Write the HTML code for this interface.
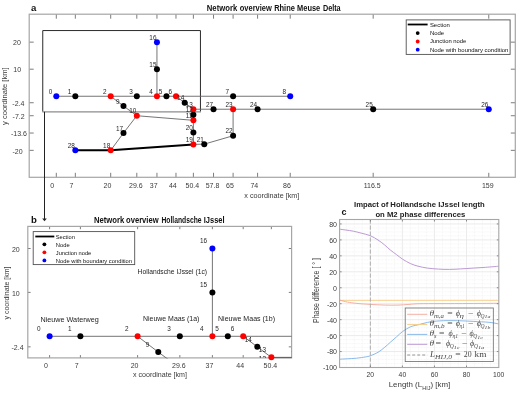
<!DOCTYPE html><html><head><meta charset="utf-8"><style>html,body{margin:0;padding:0;background:#fff;}svg{display:block;will-change:transform;}</style></head><body>
<svg width="520" height="400" viewBox="0 0 520 400">
<rect width="520" height="400" fill="#fff"/>
<defs>
<clipPath id="clipA"><rect x="29.2" y="14.2" width="486.1" height="163.1"/></clipPath>
<clipPath id="clipB"><rect x="27.8" y="226.4" width="263.8" height="131.5"/></clipPath>
<clipPath id="clipB2"><rect x="27.8" y="226.4" width="263.8" height="132.2"/></clipPath>
<clipPath id="clipC"><rect x="339.6" y="219.5" width="159.2" height="148"/></clipPath>
</defs>
<line x1="56.30" y1="177.30" x2="56.30" y2="172.80" stroke="#6e6e6e" stroke-width="0.9"/>
<line x1="56.30" y1="14.20" x2="56.30" y2="18.70" stroke="#6e6e6e" stroke-width="0.9"/>
<line x1="75.34" y1="177.30" x2="75.34" y2="172.80" stroke="#6e6e6e" stroke-width="0.9"/>
<line x1="75.34" y1="14.20" x2="75.34" y2="18.70" stroke="#6e6e6e" stroke-width="0.9"/>
<line x1="110.70" y1="177.30" x2="110.70" y2="172.80" stroke="#6e6e6e" stroke-width="0.9"/>
<line x1="110.70" y1="14.20" x2="110.70" y2="18.70" stroke="#6e6e6e" stroke-width="0.9"/>
<line x1="136.81" y1="177.30" x2="136.81" y2="172.80" stroke="#6e6e6e" stroke-width="0.9"/>
<line x1="136.81" y1="14.20" x2="136.81" y2="18.70" stroke="#6e6e6e" stroke-width="0.9"/>
<line x1="156.94" y1="177.30" x2="156.94" y2="172.80" stroke="#6e6e6e" stroke-width="0.9"/>
<line x1="156.94" y1="14.20" x2="156.94" y2="18.70" stroke="#6e6e6e" stroke-width="0.9"/>
<line x1="175.98" y1="177.30" x2="175.98" y2="172.80" stroke="#6e6e6e" stroke-width="0.9"/>
<line x1="175.98" y1="14.20" x2="175.98" y2="18.70" stroke="#6e6e6e" stroke-width="0.9"/>
<line x1="193.39" y1="177.30" x2="193.39" y2="172.80" stroke="#6e6e6e" stroke-width="0.9"/>
<line x1="193.39" y1="14.20" x2="193.39" y2="18.70" stroke="#6e6e6e" stroke-width="0.9"/>
<line x1="213.52" y1="177.30" x2="213.52" y2="172.80" stroke="#6e6e6e" stroke-width="0.9"/>
<line x1="213.52" y1="14.20" x2="213.52" y2="18.70" stroke="#6e6e6e" stroke-width="0.9"/>
<line x1="233.10" y1="177.30" x2="233.10" y2="172.80" stroke="#6e6e6e" stroke-width="0.9"/>
<line x1="233.10" y1="14.20" x2="233.10" y2="18.70" stroke="#6e6e6e" stroke-width="0.9"/>
<line x1="257.58" y1="177.30" x2="257.58" y2="172.80" stroke="#6e6e6e" stroke-width="0.9"/>
<line x1="257.58" y1="14.20" x2="257.58" y2="18.70" stroke="#6e6e6e" stroke-width="0.9"/>
<line x1="290.22" y1="177.30" x2="290.22" y2="172.80" stroke="#6e6e6e" stroke-width="0.9"/>
<line x1="290.22" y1="14.20" x2="290.22" y2="18.70" stroke="#6e6e6e" stroke-width="0.9"/>
<line x1="373.18" y1="177.30" x2="373.18" y2="172.80" stroke="#6e6e6e" stroke-width="0.9"/>
<line x1="373.18" y1="14.20" x2="373.18" y2="18.70" stroke="#6e6e6e" stroke-width="0.9"/>
<line x1="488.78" y1="177.30" x2="488.78" y2="172.80" stroke="#6e6e6e" stroke-width="0.9"/>
<line x1="488.78" y1="14.20" x2="488.78" y2="18.70" stroke="#6e6e6e" stroke-width="0.9"/>
<line x1="29.20" y1="42.15" x2="33.70" y2="42.15" stroke="#6e6e6e" stroke-width="0.9"/>
<line x1="515.30" y1="42.15" x2="510.80" y2="42.15" stroke="#6e6e6e" stroke-width="0.9"/>
<line x1="29.20" y1="69.20" x2="33.70" y2="69.20" stroke="#6e6e6e" stroke-width="0.9"/>
<line x1="515.30" y1="69.20" x2="510.80" y2="69.20" stroke="#6e6e6e" stroke-width="0.9"/>
<line x1="29.20" y1="102.74" x2="33.70" y2="102.74" stroke="#6e6e6e" stroke-width="0.9"/>
<line x1="515.30" y1="102.74" x2="510.80" y2="102.74" stroke="#6e6e6e" stroke-width="0.9"/>
<line x1="29.20" y1="115.73" x2="33.70" y2="115.73" stroke="#6e6e6e" stroke-width="0.9"/>
<line x1="515.30" y1="115.73" x2="510.80" y2="115.73" stroke="#6e6e6e" stroke-width="0.9"/>
<line x1="29.20" y1="133.04" x2="33.70" y2="133.04" stroke="#6e6e6e" stroke-width="0.9"/>
<line x1="515.30" y1="133.04" x2="510.80" y2="133.04" stroke="#6e6e6e" stroke-width="0.9"/>
<line x1="29.20" y1="150.35" x2="33.70" y2="150.35" stroke="#6e6e6e" stroke-width="0.9"/>
<line x1="515.30" y1="150.35" x2="510.80" y2="150.35" stroke="#6e6e6e" stroke-width="0.9"/>
<rect x="29.2" y="14.2" width="486.09999999999997" height="163.10000000000002" fill="none" stroke="#a6a6a6" stroke-width="1.2"/>
<text x="52.30" y="188.20" font-size="7.0" fill="#3a3a3a" text-anchor="middle" font-weight="normal" font-family='"Liberation Sans", sans-serif'>0</text>
<text x="71.34" y="188.20" font-size="7.0" fill="#3a3a3a" text-anchor="middle" font-weight="normal" font-family='"Liberation Sans", sans-serif'>7</text>
<text x="107.50" y="188.20" font-size="7.0" fill="#3a3a3a" text-anchor="middle" font-weight="normal" font-family='"Liberation Sans", sans-serif'>20</text>
<text x="135.81" y="188.20" font-size="7.0" fill="#3a3a3a" text-anchor="middle" font-weight="normal" font-family='"Liberation Sans", sans-serif'>29.6</text>
<text x="153.74" y="188.20" font-size="7.0" fill="#3a3a3a" text-anchor="middle" font-weight="normal" font-family='"Liberation Sans", sans-serif'>37</text>
<text x="172.78" y="188.20" font-size="7.0" fill="#3a3a3a" text-anchor="middle" font-weight="normal" font-family='"Liberation Sans", sans-serif'>44</text>
<text x="192.39" y="188.20" font-size="7.0" fill="#3a3a3a" text-anchor="middle" font-weight="normal" font-family='"Liberation Sans", sans-serif'>50.4</text>
<text x="212.52" y="188.20" font-size="7.0" fill="#3a3a3a" text-anchor="middle" font-weight="normal" font-family='"Liberation Sans", sans-serif'>57.8</text>
<text x="229.90" y="188.20" font-size="7.0" fill="#3a3a3a" text-anchor="middle" font-weight="normal" font-family='"Liberation Sans", sans-serif'>65</text>
<text x="254.38" y="188.20" font-size="7.0" fill="#3a3a3a" text-anchor="middle" font-weight="normal" font-family='"Liberation Sans", sans-serif'>74</text>
<text x="287.02" y="188.20" font-size="7.0" fill="#3a3a3a" text-anchor="middle" font-weight="normal" font-family='"Liberation Sans", sans-serif'>86</text>
<text x="372.18" y="188.20" font-size="7.0" fill="#3a3a3a" text-anchor="middle" font-weight="normal" font-family='"Liberation Sans", sans-serif'>116.5</text>
<text x="487.78" y="188.20" font-size="7.0" fill="#3a3a3a" text-anchor="middle" font-weight="normal" font-family='"Liberation Sans", sans-serif'>159</text>
<text x="16.90" y="45.10" font-size="7.0" fill="#3a3a3a" text-anchor="middle" font-weight="normal" font-family='"Liberation Sans", sans-serif'>20</text>
<text x="17.20" y="71.80" font-size="7.0" fill="#3a3a3a" text-anchor="middle" font-weight="normal" font-family='"Liberation Sans", sans-serif'>10</text>
<text x="18.40" y="105.90" font-size="7.0" fill="#3a3a3a" text-anchor="middle" font-weight="normal" font-family='"Liberation Sans", sans-serif'>-2.4</text>
<text x="18.60" y="119.10" font-size="7.0" fill="#3a3a3a" text-anchor="middle" font-weight="normal" font-family='"Liberation Sans", sans-serif'>-7.2</text>
<text x="18.90" y="136.30" font-size="7.0" fill="#3a3a3a" text-anchor="middle" font-weight="normal" font-family='"Liberation Sans", sans-serif'>-13.6</text>
<text x="17.60" y="153.60" font-size="7.0" fill="#3a3a3a" text-anchor="middle" font-weight="normal" font-family='"Liberation Sans", sans-serif'>-20</text>
<text x="271.80" y="197.60" font-size="7.3" fill="#3a3a3a" text-anchor="middle" font-weight="normal" font-family='"Liberation Sans", sans-serif' textLength="55" lengthAdjust="spacingAndGlyphs">x coordinate [km]</text>
<text transform="translate(7.2,96.2) rotate(-90)" x="0" y="0" font-size="8.0" fill="#3a3a3a" text-anchor="middle" font-family='"Liberation Sans", sans-serif' textLength="57.5" lengthAdjust="spacingAndGlyphs">y coordinate [km]</text>
<text x="206.80" y="11.00" font-size="8.6" fill="#111" text-anchor="start" font-weight="bold" font-family='"Liberation Sans", sans-serif' textLength="30.39" lengthAdjust="spacingAndGlyphs">Network</text>
<text x="239.80" y="11.00" font-size="8.6" fill="#111" text-anchor="start" font-weight="bold" font-family='"Liberation Sans", sans-serif' textLength="31.99" lengthAdjust="spacingAndGlyphs">overview</text>
<text x="274.20" y="11.00" font-size="8.6" fill="#111" text-anchor="start" font-weight="bold" font-family='"Liberation Sans", sans-serif' textLength="20.70" lengthAdjust="spacingAndGlyphs">Rhine</text>
<text x="297.10" y="11.00" font-size="8.6" fill="#111" text-anchor="start" font-weight="bold" font-family='"Liberation Sans", sans-serif' textLength="23.10" lengthAdjust="spacingAndGlyphs">Meuse</text>
<text x="322.90" y="11.00" font-size="8.6" fill="#111" text-anchor="start" font-weight="bold" font-family='"Liberation Sans", sans-serif' textLength="17.75" lengthAdjust="spacingAndGlyphs">Delta</text>
<text x="31.00" y="10.80" font-size="9.6" fill="#111" text-anchor="start" font-weight="bold" font-family='"Liberation Sans", sans-serif'>a</text>
<path d="M42.75,111.6 L42.75,30.55 L200.45,30.55 L200.45,111.6" fill="none" stroke="#2a2a2a" stroke-width="1"/>
<line x1="42.30" y1="111.85" x2="200.90" y2="111.85" stroke="#8c8c8c" stroke-width="1.4"/>
<g clip-path="url(#clipA)">
<polyline points="56.30,96.25 75.34,96.25 110.70,96.25 136.81,96.25 156.94,96.25 166.46,96.25 175.98,96.25 233.10,96.25 290.22,96.25" fill="none" stroke="#656565" stroke-width="0.9" stroke-linejoin="round"/>
<polyline points="175.98,96.25 184.68,102.74 193.39,109.23" fill="none" stroke="#656565" stroke-width="0.9" stroke-linejoin="round"/>
<polyline points="193.39,109.23 213.52,109.23 233.10,109.23 257.58,109.23 373.18,109.23 488.78,109.23" fill="none" stroke="#656565" stroke-width="0.9" stroke-linejoin="round"/>
<polyline points="193.39,109.23 193.39,114.64 193.39,120.32 193.39,132.50 193.39,144.40" fill="none" stroke="#656565" stroke-width="0.9" stroke-linejoin="round"/>
<polyline points="156.94,96.25 156.94,69.20 156.94,42.15" fill="none" stroke="#656565" stroke-width="0.9" stroke-linejoin="round"/>
<polyline points="110.70,96.25 123.48,105.99 136.81,115.73" fill="none" stroke="#656565" stroke-width="0.9" stroke-linejoin="round"/>
<polyline points="136.81,115.73 193.39,120.32" fill="none" stroke="#656565" stroke-width="0.9" stroke-linejoin="round"/>
<polyline points="136.81,115.73 123.48,133.04 110.70,150.35" fill="none" stroke="#656565" stroke-width="0.9" stroke-linejoin="round"/>
<polyline points="193.39,144.40 204.27,144.13 233.10,135.74 233.10,109.23" fill="none" stroke="#656565" stroke-width="0.9" stroke-linejoin="round"/>
<polyline points="75.34,150.35 110.70,150.35 193.39,144.40" fill="none" stroke="#000" stroke-width="2.0" stroke-linejoin="round"/>
</g>
<circle cx="56.30" cy="96.25" r="3.0" fill="#0000ff"/>
<circle cx="75.34" cy="96.25" r="3.0" fill="#000000"/>
<circle cx="110.70" cy="96.25" r="3.0" fill="#ff0000"/>
<circle cx="136.81" cy="96.25" r="3.0" fill="#000000"/>
<circle cx="156.94" cy="96.25" r="3.0" fill="#ff0000"/>
<circle cx="166.46" cy="96.25" r="3.0" fill="#000000"/>
<circle cx="175.98" cy="96.25" r="3.0" fill="#ff0000"/>
<circle cx="233.10" cy="96.25" r="3.0" fill="#000000"/>
<circle cx="290.22" cy="96.25" r="3.0" fill="#0000ff"/>
<circle cx="123.48" cy="105.99" r="3.0" fill="#000000"/>
<circle cx="136.81" cy="115.73" r="3.0" fill="#ff0000"/>
<circle cx="193.39" cy="120.32" r="3.0" fill="#ff0000"/>
<circle cx="193.39" cy="114.64" r="3.0" fill="#000000"/>
<circle cx="193.39" cy="109.23" r="3.0" fill="#ff0000"/>
<circle cx="184.68" cy="102.74" r="3.0" fill="#000000"/>
<circle cx="156.94" cy="69.20" r="3.0" fill="#000000"/>
<circle cx="156.94" cy="42.15" r="3.0" fill="#0000ff"/>
<circle cx="123.48" cy="133.04" r="3.0" fill="#000000"/>
<circle cx="110.70" cy="150.35" r="3.0" fill="#ff0000"/>
<circle cx="193.39" cy="144.40" r="3.0" fill="#ff0000"/>
<circle cx="193.39" cy="132.50" r="3.0" fill="#000000"/>
<circle cx="204.27" cy="144.13" r="3.0" fill="#000000"/>
<circle cx="233.10" cy="135.74" r="3.0" fill="#000000"/>
<circle cx="233.10" cy="109.23" r="3.0" fill="#ff0000"/>
<circle cx="257.58" cy="109.23" r="3.0" fill="#000000"/>
<circle cx="373.18" cy="109.23" r="3.0" fill="#000000"/>
<circle cx="488.78" cy="109.23" r="3.0" fill="#0000ff"/>
<circle cx="213.52" cy="109.23" r="3.0" fill="#000000"/>
<circle cx="75.34" cy="150.35" r="3.0" fill="#0000ff"/>
<g clip-path="url(#clipA)">
<text x="48.70" y="93.95" font-size="6.4" fill="#262626" text-anchor="start" font-weight="normal" font-family='"Liberation Sans", sans-serif'>0</text>
<text x="67.74" y="93.95" font-size="6.4" fill="#262626" text-anchor="start" font-weight="normal" font-family='"Liberation Sans", sans-serif'>1</text>
<text x="103.10" y="93.95" font-size="6.4" fill="#262626" text-anchor="start" font-weight="normal" font-family='"Liberation Sans", sans-serif'>2</text>
<text x="129.21" y="93.95" font-size="6.4" fill="#262626" text-anchor="start" font-weight="normal" font-family='"Liberation Sans", sans-serif'>3</text>
<text x="149.34" y="93.95" font-size="6.4" fill="#262626" text-anchor="start" font-weight="normal" font-family='"Liberation Sans", sans-serif'>4</text>
<text x="158.86" y="93.95" font-size="6.4" fill="#262626" text-anchor="start" font-weight="normal" font-family='"Liberation Sans", sans-serif'>5</text>
<text x="168.38" y="93.95" font-size="6.4" fill="#262626" text-anchor="start" font-weight="normal" font-family='"Liberation Sans", sans-serif'>6</text>
<text x="225.50" y="93.95" font-size="6.4" fill="#262626" text-anchor="start" font-weight="normal" font-family='"Liberation Sans", sans-serif'>7</text>
<text x="282.62" y="93.95" font-size="6.4" fill="#262626" text-anchor="start" font-weight="normal" font-family='"Liberation Sans", sans-serif'>8</text>
<text x="115.88" y="103.69" font-size="6.4" fill="#262626" text-anchor="start" font-weight="normal" font-family='"Liberation Sans", sans-serif'>9</text>
<text x="129.21" y="113.43" font-size="6.4" fill="#262626" text-anchor="start" font-weight="normal" font-family='"Liberation Sans", sans-serif'>10</text>
<text x="185.79" y="118.02" font-size="6.4" fill="#262626" text-anchor="start" font-weight="normal" font-family='"Liberation Sans", sans-serif'>11</text>
<text x="185.79" y="112.34" font-size="6.4" fill="#262626" text-anchor="start" font-weight="normal" font-family='"Liberation Sans", sans-serif'>12</text>
<text x="185.79" y="106.93" font-size="6.4" fill="#262626" text-anchor="start" font-weight="normal" font-family='"Liberation Sans", sans-serif'>13</text>
<text x="177.08" y="100.44" font-size="6.4" fill="#262626" text-anchor="start" font-weight="normal" font-family='"Liberation Sans", sans-serif'>14</text>
<text x="149.34" y="66.90" font-size="6.4" fill="#262626" text-anchor="start" font-weight="normal" font-family='"Liberation Sans", sans-serif'>15</text>
<text x="149.34" y="39.85" font-size="6.4" fill="#262626" text-anchor="start" font-weight="normal" font-family='"Liberation Sans", sans-serif'>16</text>
<text x="115.88" y="130.74" font-size="6.4" fill="#262626" text-anchor="start" font-weight="normal" font-family='"Liberation Sans", sans-serif'>17</text>
<text x="103.10" y="148.05" font-size="6.4" fill="#262626" text-anchor="start" font-weight="normal" font-family='"Liberation Sans", sans-serif'>18</text>
<text x="185.79" y="142.10" font-size="6.4" fill="#262626" text-anchor="start" font-weight="normal" font-family='"Liberation Sans", sans-serif'>19</text>
<text x="185.79" y="130.20" font-size="6.4" fill="#262626" text-anchor="start" font-weight="normal" font-family='"Liberation Sans", sans-serif'>20</text>
<text x="196.67" y="141.83" font-size="6.4" fill="#262626" text-anchor="start" font-weight="normal" font-family='"Liberation Sans", sans-serif'>21</text>
<text x="225.50" y="133.44" font-size="6.4" fill="#262626" text-anchor="start" font-weight="normal" font-family='"Liberation Sans", sans-serif'>22</text>
<text x="225.50" y="106.93" font-size="6.4" fill="#262626" text-anchor="start" font-weight="normal" font-family='"Liberation Sans", sans-serif'>23</text>
<text x="249.98" y="106.93" font-size="6.4" fill="#262626" text-anchor="start" font-weight="normal" font-family='"Liberation Sans", sans-serif'>24</text>
<text x="365.58" y="106.93" font-size="6.4" fill="#262626" text-anchor="start" font-weight="normal" font-family='"Liberation Sans", sans-serif'>25</text>
<text x="481.18" y="106.93" font-size="6.4" fill="#262626" text-anchor="start" font-weight="normal" font-family='"Liberation Sans", sans-serif'>26</text>
<text x="205.92" y="106.93" font-size="6.4" fill="#262626" text-anchor="start" font-weight="normal" font-family='"Liberation Sans", sans-serif'>27</text>
<text x="67.74" y="148.05" font-size="6.4" fill="#262626" text-anchor="start" font-weight="normal" font-family='"Liberation Sans", sans-serif'>28</text>
</g>
<line x1="44.50" y1="111.80" x2="44.50" y2="219.50" stroke="#222" stroke-width="1"/>
<path d="M42.2,218.4 L44.5,221.2 L46.8,218.4 Z" fill="#222"/>
<rect x="406.2" y="19.9" width="103.9" height="34.5" fill="#fff" stroke="#505050" stroke-width="0.9"/>
<line x1="407.70" y1="24.50" x2="427.60" y2="24.50" stroke="#000" stroke-width="1.8"/>
<circle cx="417.70" cy="33.10" r="1.9" fill="#000000"/>
<circle cx="417.70" cy="41.50" r="1.9" fill="#ff0000"/>
<circle cx="417.70" cy="49.70" r="1.9" fill="#0000ff"/>
<text x="429.90" y="27.00" font-size="6.1" fill="#111" text-anchor="start" font-weight="normal" font-family='"Liberation Sans", sans-serif' textLength="19.9" lengthAdjust="spacingAndGlyphs">Section</text>
<text x="429.90" y="35.00" font-size="6.1" fill="#111" text-anchor="start" font-weight="normal" font-family='"Liberation Sans", sans-serif' textLength="14.3" lengthAdjust="spacingAndGlyphs">Node</text>
<text x="429.90" y="43.40" font-size="6.1" fill="#111" text-anchor="start" font-weight="normal" font-family='"Liberation Sans", sans-serif' textLength="36.5" lengthAdjust="spacingAndGlyphs">Junction node</text>
<text x="429.90" y="51.60" font-size="6.1" fill="#111" text-anchor="start" font-weight="normal" font-family='"Liberation Sans", sans-serif' textLength="78.5" lengthAdjust="spacingAndGlyphs">Node with boundary condition</text>
<line x1="49.60" y1="357.90" x2="49.60" y2="355.10" stroke="#6e6e6e" stroke-width="0.9"/>
<line x1="49.60" y1="226.40" x2="49.60" y2="229.20" stroke="#6e6e6e" stroke-width="0.9"/>
<line x1="80.40" y1="357.90" x2="80.40" y2="355.10" stroke="#6e6e6e" stroke-width="0.9"/>
<line x1="80.40" y1="226.40" x2="80.40" y2="229.20" stroke="#6e6e6e" stroke-width="0.9"/>
<line x1="137.60" y1="357.90" x2="137.60" y2="355.10" stroke="#6e6e6e" stroke-width="0.9"/>
<line x1="137.60" y1="226.40" x2="137.60" y2="229.20" stroke="#6e6e6e" stroke-width="0.9"/>
<line x1="179.84" y1="357.90" x2="179.84" y2="355.10" stroke="#6e6e6e" stroke-width="0.9"/>
<line x1="179.84" y1="226.40" x2="179.84" y2="229.20" stroke="#6e6e6e" stroke-width="0.9"/>
<line x1="212.40" y1="357.90" x2="212.40" y2="355.10" stroke="#6e6e6e" stroke-width="0.9"/>
<line x1="212.40" y1="226.40" x2="212.40" y2="229.20" stroke="#6e6e6e" stroke-width="0.9"/>
<line x1="243.20" y1="357.90" x2="243.20" y2="355.10" stroke="#6e6e6e" stroke-width="0.9"/>
<line x1="243.20" y1="226.40" x2="243.20" y2="229.20" stroke="#6e6e6e" stroke-width="0.9"/>
<line x1="271.36" y1="357.90" x2="271.36" y2="355.10" stroke="#6e6e6e" stroke-width="0.9"/>
<line x1="271.36" y1="226.40" x2="271.36" y2="229.20" stroke="#6e6e6e" stroke-width="0.9"/>
<line x1="27.80" y1="248.50" x2="30.60" y2="248.50" stroke="#6e6e6e" stroke-width="0.9"/>
<line x1="291.60" y1="248.50" x2="288.80" y2="248.50" stroke="#6e6e6e" stroke-width="0.9"/>
<line x1="27.80" y1="292.40" x2="30.60" y2="292.40" stroke="#6e6e6e" stroke-width="0.9"/>
<line x1="291.60" y1="292.40" x2="288.80" y2="292.40" stroke="#6e6e6e" stroke-width="0.9"/>
<line x1="27.80" y1="346.84" x2="30.60" y2="346.84" stroke="#6e6e6e" stroke-width="0.9"/>
<line x1="291.60" y1="346.84" x2="288.80" y2="346.84" stroke="#6e6e6e" stroke-width="0.9"/>
<rect x="27.8" y="226.4" width="263.8" height="131.49999999999997" fill="none" stroke="#a6a6a6" stroke-width="1.2"/>
<text x="45.90" y="367.50" font-size="7.0" fill="#3a3a3a" text-anchor="middle" font-weight="normal" font-family='"Liberation Sans", sans-serif'>0</text>
<text x="76.70" y="367.50" font-size="7.0" fill="#3a3a3a" text-anchor="middle" font-weight="normal" font-family='"Liberation Sans", sans-serif'>7</text>
<text x="134.60" y="367.50" font-size="7.0" fill="#3a3a3a" text-anchor="middle" font-weight="normal" font-family='"Liberation Sans", sans-serif'>20</text>
<text x="178.84" y="367.50" font-size="7.0" fill="#3a3a3a" text-anchor="middle" font-weight="normal" font-family='"Liberation Sans", sans-serif'>29.6</text>
<text x="209.40" y="367.50" font-size="7.0" fill="#3a3a3a" text-anchor="middle" font-weight="normal" font-family='"Liberation Sans", sans-serif'>37</text>
<text x="240.20" y="367.50" font-size="7.0" fill="#3a3a3a" text-anchor="middle" font-weight="normal" font-family='"Liberation Sans", sans-serif'>44</text>
<text x="270.36" y="367.50" font-size="7.0" fill="#3a3a3a" text-anchor="middle" font-weight="normal" font-family='"Liberation Sans", sans-serif'>50.4</text>
<text x="15.80" y="252.00" font-size="7.0" fill="#3a3a3a" text-anchor="middle" font-weight="normal" font-family='"Liberation Sans", sans-serif'>20</text>
<text x="15.80" y="295.80" font-size="7.0" fill="#3a3a3a" text-anchor="middle" font-weight="normal" font-family='"Liberation Sans", sans-serif'>10</text>
<text x="17.50" y="350.00" font-size="7.0" fill="#3a3a3a" text-anchor="middle" font-weight="normal" font-family='"Liberation Sans", sans-serif'>-2.4</text>
<text x="160.00" y="377.00" font-size="7.3" fill="#3a3a3a" text-anchor="middle" font-weight="normal" font-family='"Liberation Sans", sans-serif' textLength="54" lengthAdjust="spacingAndGlyphs">x coordinate [km]</text>
<text transform="translate(9.0,293) rotate(-90)" x="0" y="0" font-size="7.8" fill="#3a3a3a" text-anchor="middle" font-family='"Liberation Sans", sans-serif' textLength="53" lengthAdjust="spacingAndGlyphs">y coordinate [km]</text>
<text x="94.00" y="223.30" font-size="8.4" fill="#111" text-anchor="start" font-weight="bold" font-family='"Liberation Sans", sans-serif' textLength="30.29" lengthAdjust="spacingAndGlyphs">Network</text>
<text x="126.10" y="223.30" font-size="8.4" fill="#111" text-anchor="start" font-weight="bold" font-family='"Liberation Sans", sans-serif' textLength="32.49" lengthAdjust="spacingAndGlyphs">overview</text>
<text x="161.50" y="223.30" font-size="8.4" fill="#111" text-anchor="start" font-weight="bold" font-family='"Liberation Sans", sans-serif' textLength="40.00" lengthAdjust="spacingAndGlyphs">Hollandsche</text>
<text x="203.80" y="223.30" font-size="8.4" fill="#111" text-anchor="start" font-weight="bold" font-family='"Liberation Sans", sans-serif' textLength="20.80" lengthAdjust="spacingAndGlyphs">IJssel</text>
<text x="30.90" y="222.50" font-size="9.6" fill="#111" text-anchor="start" font-weight="bold" font-family='"Liberation Sans", sans-serif'>b</text>
<line x1="271.36" y1="357.60" x2="291.60" y2="357.60" stroke="#5a5a5a" stroke-width="1.0"/>
<g clip-path="url(#clipB2)">
<polyline points="49.60,336.30 80.40,336.30 137.60,336.30 179.84,336.30 212.40,336.30 227.80,336.30 243.20,336.30 335.60,336.30 428.00,336.30" fill="none" stroke="#656565" stroke-width="0.9" stroke-linejoin="round"/>
<polyline points="243.20,336.30 257.28,346.84 271.36,357.37" fill="none" stroke="#656565" stroke-width="0.9" stroke-linejoin="round"/>
<polyline points="271.36,357.37 303.92,357.37 335.60,357.37 375.20,357.37 562.20,357.37 749.20,357.37" fill="none" stroke="#656565" stroke-width="0.9" stroke-linejoin="round"/>
<polyline points="271.36,357.37 271.36,366.15 271.36,375.37 271.36,395.13 271.36,414.44" fill="none" stroke="#656565" stroke-width="0.9" stroke-linejoin="round"/>
<polyline points="212.40,336.30 212.40,292.40 212.40,248.50" fill="none" stroke="#656565" stroke-width="0.9" stroke-linejoin="round"/>
<polyline points="137.60,336.30 158.28,352.10 179.84,367.91" fill="none" stroke="#656565" stroke-width="0.9" stroke-linejoin="round"/>
<polyline points="179.84,367.91 271.36,375.37" fill="none" stroke="#656565" stroke-width="0.9" stroke-linejoin="round"/>
<polyline points="179.84,367.91 158.28,396.00 137.60,424.10" fill="none" stroke="#656565" stroke-width="0.9" stroke-linejoin="round"/>
<polyline points="271.36,414.44 288.96,414.00 335.60,400.39 335.60,357.37" fill="none" stroke="#656565" stroke-width="0.9" stroke-linejoin="round"/>
<polyline points="80.40,424.10 137.60,424.10 271.36,414.44" fill="none" stroke="#000" stroke-width="2.0" stroke-linejoin="round"/>
</g>
<circle cx="49.60" cy="336.30" r="3.0" fill="#0000ff"/>
<circle cx="80.40" cy="336.30" r="3.0" fill="#000000"/>
<circle cx="137.60" cy="336.30" r="3.0" fill="#ff0000"/>
<circle cx="179.84" cy="336.30" r="3.0" fill="#000000"/>
<circle cx="212.40" cy="336.30" r="3.0" fill="#ff0000"/>
<circle cx="227.80" cy="336.30" r="3.0" fill="#000000"/>
<circle cx="243.20" cy="336.30" r="3.0" fill="#ff0000"/>
<circle cx="158.28" cy="352.10" r="3.0" fill="#000000"/>
<circle cx="271.36" cy="357.37" r="3.0" fill="#ff0000"/>
<circle cx="257.28" cy="346.84" r="3.0" fill="#000000"/>
<circle cx="212.40" cy="292.40" r="3.0" fill="#000000"/>
<circle cx="212.40" cy="248.50" r="3.0" fill="#0000ff"/>
<g clip-path="url(#clipB)">
<text x="37.10" y="331.00" font-size="6.4" fill="#262626" text-anchor="start" font-weight="normal" font-family='"Liberation Sans", sans-serif'>0</text>
<text x="67.90" y="331.00" font-size="6.4" fill="#262626" text-anchor="start" font-weight="normal" font-family='"Liberation Sans", sans-serif'>1</text>
<text x="125.10" y="331.00" font-size="6.4" fill="#262626" text-anchor="start" font-weight="normal" font-family='"Liberation Sans", sans-serif'>2</text>
<text x="167.34" y="331.00" font-size="6.4" fill="#262626" text-anchor="start" font-weight="normal" font-family='"Liberation Sans", sans-serif'>3</text>
<text x="199.90" y="331.00" font-size="6.4" fill="#262626" text-anchor="start" font-weight="normal" font-family='"Liberation Sans", sans-serif'>4</text>
<text x="215.30" y="331.00" font-size="6.4" fill="#262626" text-anchor="start" font-weight="normal" font-family='"Liberation Sans", sans-serif'>5</text>
<text x="230.70" y="331.00" font-size="6.4" fill="#262626" text-anchor="start" font-weight="normal" font-family='"Liberation Sans", sans-serif'>6</text>
<text x="323.10" y="331.00" font-size="6.4" fill="#262626" text-anchor="start" font-weight="normal" font-family='"Liberation Sans", sans-serif'>7</text>
<text x="415.50" y="331.00" font-size="6.4" fill="#262626" text-anchor="start" font-weight="normal" font-family='"Liberation Sans", sans-serif'>8</text>
<text x="145.78" y="346.80" font-size="6.4" fill="#262626" text-anchor="start" font-weight="normal" font-family='"Liberation Sans", sans-serif'>9</text>
<text x="167.34" y="362.61" font-size="6.4" fill="#262626" text-anchor="start" font-weight="normal" font-family='"Liberation Sans", sans-serif'>10</text>
<text x="258.86" y="370.07" font-size="6.4" fill="#262626" text-anchor="start" font-weight="normal" font-family='"Liberation Sans", sans-serif'>11</text>
<text x="258.86" y="360.85" font-size="6.4" fill="#262626" text-anchor="start" font-weight="normal" font-family='"Liberation Sans", sans-serif'>12</text>
<text x="258.86" y="352.07" font-size="6.4" fill="#262626" text-anchor="start" font-weight="normal" font-family='"Liberation Sans", sans-serif'>13</text>
<text x="244.78" y="341.54" font-size="6.4" fill="#262626" text-anchor="start" font-weight="normal" font-family='"Liberation Sans", sans-serif'>14</text>
<text x="199.90" y="287.10" font-size="6.4" fill="#262626" text-anchor="start" font-weight="normal" font-family='"Liberation Sans", sans-serif'>15</text>
<text x="199.90" y="243.20" font-size="6.4" fill="#262626" text-anchor="start" font-weight="normal" font-family='"Liberation Sans", sans-serif'>16</text>
<text x="145.78" y="390.70" font-size="6.4" fill="#262626" text-anchor="start" font-weight="normal" font-family='"Liberation Sans", sans-serif'>17</text>
<text x="125.10" y="418.80" font-size="6.4" fill="#262626" text-anchor="start" font-weight="normal" font-family='"Liberation Sans", sans-serif'>18</text>
<text x="258.86" y="409.14" font-size="6.4" fill="#262626" text-anchor="start" font-weight="normal" font-family='"Liberation Sans", sans-serif'>19</text>
<text x="258.86" y="389.83" font-size="6.4" fill="#262626" text-anchor="start" font-weight="normal" font-family='"Liberation Sans", sans-serif'>20</text>
<text x="276.46" y="408.70" font-size="6.4" fill="#262626" text-anchor="start" font-weight="normal" font-family='"Liberation Sans", sans-serif'>21</text>
<text x="323.10" y="395.09" font-size="6.4" fill="#262626" text-anchor="start" font-weight="normal" font-family='"Liberation Sans", sans-serif'>22</text>
<text x="323.10" y="352.07" font-size="6.4" fill="#262626" text-anchor="start" font-weight="normal" font-family='"Liberation Sans", sans-serif'>23</text>
<text x="362.70" y="352.07" font-size="6.4" fill="#262626" text-anchor="start" font-weight="normal" font-family='"Liberation Sans", sans-serif'>24</text>
<text x="549.70" y="352.07" font-size="6.4" fill="#262626" text-anchor="start" font-weight="normal" font-family='"Liberation Sans", sans-serif'>25</text>
<text x="736.70" y="352.07" font-size="6.4" fill="#262626" text-anchor="start" font-weight="normal" font-family='"Liberation Sans", sans-serif'>26</text>
<text x="291.42" y="352.07" font-size="6.4" fill="#262626" text-anchor="start" font-weight="normal" font-family='"Liberation Sans", sans-serif'>27</text>
<text x="67.90" y="418.80" font-size="6.4" fill="#262626" text-anchor="start" font-weight="normal" font-family='"Liberation Sans", sans-serif'>28</text>
</g>
<text x="40.40" y="322.00" font-size="7.4" fill="#222" text-anchor="start" font-weight="normal" font-family='"Liberation Sans", sans-serif' textLength="58.5" lengthAdjust="spacingAndGlyphs">Nieuwe Waterweg</text>
<text x="143.00" y="321.40" font-size="7.4" fill="#222" text-anchor="start" font-weight="normal" font-family='"Liberation Sans", sans-serif' textLength="56.4" lengthAdjust="spacingAndGlyphs">Nieuwe Maas (1a)</text>
<text x="218.00" y="321.00" font-size="7.4" fill="#222" text-anchor="start" font-weight="normal" font-family='"Liberation Sans", sans-serif' textLength="57" lengthAdjust="spacingAndGlyphs">Nieuwe Maas (1b)</text>
<text x="137.60" y="274.00" font-size="7.4" fill="#222" text-anchor="start" font-weight="normal" font-family='"Liberation Sans", sans-serif' textLength="69.4" lengthAdjust="spacingAndGlyphs">Hollandsche IJssel (1c)</text>
<rect x="33.2" y="231.6" width="101.5" height="33" fill="#fff" stroke="#505050" stroke-width="0.9"/>
<line x1="35.30" y1="236.50" x2="54.30" y2="236.50" stroke="#000" stroke-width="1.8"/>
<circle cx="44.40" cy="244.30" r="1.9" fill="#000000"/>
<circle cx="44.40" cy="252.30" r="1.9" fill="#ff0000"/>
<circle cx="44.40" cy="260.40" r="1.9" fill="#0000ff"/>
<text x="55.80" y="238.60" font-size="6.0" fill="#111" text-anchor="start" font-weight="normal" font-family='"Liberation Sans", sans-serif' textLength="19" lengthAdjust="spacingAndGlyphs">Section</text>
<text x="55.80" y="246.60" font-size="6.0" fill="#111" text-anchor="start" font-weight="normal" font-family='"Liberation Sans", sans-serif' textLength="13.8" lengthAdjust="spacingAndGlyphs">Node</text>
<text x="55.80" y="254.80" font-size="6.0" fill="#111" text-anchor="start" font-weight="normal" font-family='"Liberation Sans", sans-serif' textLength="35.5" lengthAdjust="spacingAndGlyphs">Junction node</text>
<text x="55.80" y="262.80" font-size="6.0" fill="#111" text-anchor="start" font-weight="normal" font-family='"Liberation Sans", sans-serif' textLength="76.2" lengthAdjust="spacingAndGlyphs">Node with boundary condition</text>
<line x1="346.31" y1="219.50" x2="346.31" y2="367.50" stroke="#f1f1f1" stroke-width="0.6" stroke-dasharray="2,1"/>
<line x1="354.32" y1="219.50" x2="354.32" y2="367.50" stroke="#f1f1f1" stroke-width="0.6" stroke-dasharray="2,1"/>
<line x1="362.34" y1="219.50" x2="362.34" y2="367.50" stroke="#f1f1f1" stroke-width="0.6" stroke-dasharray="2,1"/>
<line x1="378.36" y1="219.50" x2="378.36" y2="367.50" stroke="#f1f1f1" stroke-width="0.6" stroke-dasharray="2,1"/>
<line x1="386.38" y1="219.50" x2="386.38" y2="367.50" stroke="#f1f1f1" stroke-width="0.6" stroke-dasharray="2,1"/>
<line x1="394.39" y1="219.50" x2="394.39" y2="367.50" stroke="#f1f1f1" stroke-width="0.6" stroke-dasharray="2,1"/>
<line x1="410.41" y1="219.50" x2="410.41" y2="367.50" stroke="#f1f1f1" stroke-width="0.6" stroke-dasharray="2,1"/>
<line x1="418.43" y1="219.50" x2="418.43" y2="367.50" stroke="#f1f1f1" stroke-width="0.6" stroke-dasharray="2,1"/>
<line x1="426.44" y1="219.50" x2="426.44" y2="367.50" stroke="#f1f1f1" stroke-width="0.6" stroke-dasharray="2,1"/>
<line x1="442.46" y1="219.50" x2="442.46" y2="367.50" stroke="#f1f1f1" stroke-width="0.6" stroke-dasharray="2,1"/>
<line x1="450.48" y1="219.50" x2="450.48" y2="367.50" stroke="#f1f1f1" stroke-width="0.6" stroke-dasharray="2,1"/>
<line x1="458.49" y1="219.50" x2="458.49" y2="367.50" stroke="#f1f1f1" stroke-width="0.6" stroke-dasharray="2,1"/>
<line x1="474.51" y1="219.50" x2="474.51" y2="367.50" stroke="#f1f1f1" stroke-width="0.6" stroke-dasharray="2,1"/>
<line x1="482.52" y1="219.50" x2="482.52" y2="367.50" stroke="#f1f1f1" stroke-width="0.6" stroke-dasharray="2,1"/>
<line x1="490.54" y1="219.50" x2="490.54" y2="367.50" stroke="#f1f1f1" stroke-width="0.6" stroke-dasharray="2,1"/>
<line x1="339.60" y1="363.51" x2="498.80" y2="363.51" stroke="#f1f1f1" stroke-width="0.6" stroke-dasharray="2,1"/>
<line x1="339.60" y1="359.52" x2="498.80" y2="359.52" stroke="#f1f1f1" stroke-width="0.6" stroke-dasharray="2,1"/>
<line x1="339.60" y1="355.54" x2="498.80" y2="355.54" stroke="#f1f1f1" stroke-width="0.6" stroke-dasharray="2,1"/>
<line x1="339.60" y1="347.56" x2="498.80" y2="347.56" stroke="#f1f1f1" stroke-width="0.6" stroke-dasharray="2,1"/>
<line x1="339.60" y1="343.57" x2="498.80" y2="343.57" stroke="#f1f1f1" stroke-width="0.6" stroke-dasharray="2,1"/>
<line x1="339.60" y1="339.59" x2="498.80" y2="339.59" stroke="#f1f1f1" stroke-width="0.6" stroke-dasharray="2,1"/>
<line x1="339.60" y1="331.61" x2="498.80" y2="331.61" stroke="#f1f1f1" stroke-width="0.6" stroke-dasharray="2,1"/>
<line x1="339.60" y1="327.62" x2="498.80" y2="327.62" stroke="#f1f1f1" stroke-width="0.6" stroke-dasharray="2,1"/>
<line x1="339.60" y1="323.64" x2="498.80" y2="323.64" stroke="#f1f1f1" stroke-width="0.6" stroke-dasharray="2,1"/>
<line x1="339.60" y1="315.66" x2="498.80" y2="315.66" stroke="#f1f1f1" stroke-width="0.6" stroke-dasharray="2,1"/>
<line x1="339.60" y1="311.68" x2="498.80" y2="311.68" stroke="#f1f1f1" stroke-width="0.6" stroke-dasharray="2,1"/>
<line x1="339.60" y1="307.69" x2="498.80" y2="307.69" stroke="#f1f1f1" stroke-width="0.6" stroke-dasharray="2,1"/>
<line x1="339.60" y1="299.71" x2="498.80" y2="299.71" stroke="#f1f1f1" stroke-width="0.6" stroke-dasharray="2,1"/>
<line x1="339.60" y1="295.73" x2="498.80" y2="295.73" stroke="#f1f1f1" stroke-width="0.6" stroke-dasharray="2,1"/>
<line x1="339.60" y1="291.74" x2="498.80" y2="291.74" stroke="#f1f1f1" stroke-width="0.6" stroke-dasharray="2,1"/>
<line x1="339.60" y1="283.76" x2="498.80" y2="283.76" stroke="#f1f1f1" stroke-width="0.6" stroke-dasharray="2,1"/>
<line x1="339.60" y1="279.77" x2="498.80" y2="279.77" stroke="#f1f1f1" stroke-width="0.6" stroke-dasharray="2,1"/>
<line x1="339.60" y1="275.79" x2="498.80" y2="275.79" stroke="#f1f1f1" stroke-width="0.6" stroke-dasharray="2,1"/>
<line x1="339.60" y1="267.81" x2="498.80" y2="267.81" stroke="#f1f1f1" stroke-width="0.6" stroke-dasharray="2,1"/>
<line x1="339.60" y1="263.82" x2="498.80" y2="263.82" stroke="#f1f1f1" stroke-width="0.6" stroke-dasharray="2,1"/>
<line x1="339.60" y1="259.84" x2="498.80" y2="259.84" stroke="#f1f1f1" stroke-width="0.6" stroke-dasharray="2,1"/>
<line x1="339.60" y1="251.86" x2="498.80" y2="251.86" stroke="#f1f1f1" stroke-width="0.6" stroke-dasharray="2,1"/>
<line x1="339.60" y1="247.88" x2="498.80" y2="247.88" stroke="#f1f1f1" stroke-width="0.6" stroke-dasharray="2,1"/>
<line x1="339.60" y1="243.89" x2="498.80" y2="243.89" stroke="#f1f1f1" stroke-width="0.6" stroke-dasharray="2,1"/>
<line x1="339.60" y1="235.91" x2="498.80" y2="235.91" stroke="#f1f1f1" stroke-width="0.6" stroke-dasharray="2,1"/>
<line x1="339.60" y1="231.93" x2="498.80" y2="231.93" stroke="#f1f1f1" stroke-width="0.6" stroke-dasharray="2,1"/>
<line x1="339.60" y1="227.94" x2="498.80" y2="227.94" stroke="#f1f1f1" stroke-width="0.6" stroke-dasharray="2,1"/>
<line x1="370.35" y1="219.50" x2="370.35" y2="367.50" stroke="#e6e6e6" stroke-width="0.75"/>
<line x1="402.40" y1="219.50" x2="402.40" y2="367.50" stroke="#e6e6e6" stroke-width="0.75"/>
<line x1="434.45" y1="219.50" x2="434.45" y2="367.50" stroke="#e6e6e6" stroke-width="0.75"/>
<line x1="466.50" y1="219.50" x2="466.50" y2="367.50" stroke="#e6e6e6" stroke-width="0.75"/>
<line x1="339.60" y1="351.55" x2="498.80" y2="351.55" stroke="#e6e6e6" stroke-width="0.75"/>
<line x1="339.60" y1="335.60" x2="498.80" y2="335.60" stroke="#e6e6e6" stroke-width="0.75"/>
<line x1="339.60" y1="319.65" x2="498.80" y2="319.65" stroke="#e6e6e6" stroke-width="0.75"/>
<line x1="339.60" y1="303.70" x2="498.80" y2="303.70" stroke="#e6e6e6" stroke-width="0.75"/>
<line x1="339.60" y1="287.75" x2="498.80" y2="287.75" stroke="#e6e6e6" stroke-width="0.75"/>
<line x1="339.60" y1="271.80" x2="498.80" y2="271.80" stroke="#e6e6e6" stroke-width="0.75"/>
<line x1="339.60" y1="255.85" x2="498.80" y2="255.85" stroke="#e6e6e6" stroke-width="0.75"/>
<line x1="339.60" y1="239.90" x2="498.80" y2="239.90" stroke="#e6e6e6" stroke-width="0.75"/>
<line x1="339.60" y1="223.95" x2="498.80" y2="223.95" stroke="#e6e6e6" stroke-width="0.75"/>
<g clip-path="url(#clipC)">
<path d="M339.50,229.20 C340.53,229.33 343.38,229.67 345.70,230.00 C348.02,230.33 350.83,230.68 353.40,231.20 C355.97,231.72 358.28,232.35 361.10,233.10 C363.92,233.85 367.48,234.55 370.30,235.70 C373.12,236.85 375.68,238.52 378.00,240.00 C380.32,241.48 382.15,242.93 384.20,244.60 C386.25,246.27 388.25,248.33 390.30,250.00 C392.35,251.67 394.45,253.07 396.50,254.60 C398.55,256.13 400.30,257.72 402.60,259.20 C404.90,260.68 407.73,262.33 410.30,263.50 C412.87,264.67 415.13,265.43 418.00,266.20 C420.87,266.97 424.08,267.62 427.50,268.10 C430.92,268.58 434.83,268.88 438.50,269.10 C442.17,269.32 445.82,269.43 449.50,269.40 C453.18,269.37 456.65,269.12 460.60,268.90 C464.55,268.68 469.00,268.37 473.20,268.10 C477.40,267.83 481.53,267.62 485.80,267.30 C490.07,266.98 496.63,266.38 498.80,266.20" fill="none" stroke="#b48fcf" stroke-width="0.9"/>
<path d="M339.50,359.20 C340.78,359.13 344.37,358.97 347.20,358.80 C350.03,358.63 353.42,358.52 356.50,358.20 C359.58,357.88 363.40,357.30 365.70,356.90 C368.00,356.50 368.25,356.57 370.30,355.80 C372.35,355.03 375.68,353.65 378.00,352.30 C380.32,350.95 382.15,349.37 384.20,347.70 C386.25,346.03 388.25,344.10 390.30,342.30 C392.35,340.50 394.45,338.70 396.50,336.90 C398.55,335.10 400.30,333.17 402.60,331.50 C404.90,329.83 407.73,328.02 410.30,326.90 C412.87,325.78 414.62,325.65 418.00,324.80 C421.38,323.95 426.40,322.48 430.60,321.80 C434.80,321.12 438.73,320.88 443.20,320.70 C447.67,320.52 452.40,320.58 457.40,320.70 C462.40,320.82 467.93,321.13 473.20,321.40 C478.47,321.67 484.73,321.88 489.00,322.30 C493.27,322.72 497.17,323.63 498.80,323.90" fill="none" stroke="#7fb2e5" stroke-width="0.9"/>
<line x1="339.60" y1="300.40" x2="498.80" y2="300.40" stroke="#f6cd88" stroke-width="0.9"/>
<path d="M339.60,300.10 C340.92,300.43 344.62,301.55 347.50,302.10 C350.38,302.65 353.10,303.02 356.90,303.40 C360.70,303.78 365.57,304.12 370.30,304.40 C375.03,304.68 380.68,304.98 385.30,305.10 C389.92,305.22 394.05,305.22 398.00,305.10 C401.95,304.98 405.47,304.63 409.00,304.40 C412.53,304.17 414.03,303.83 419.20,303.70 C424.37,303.57 431.53,303.63 440.00,303.60 C448.47,303.57 460.20,303.55 470.00,303.50 C479.80,303.45 494.00,303.33 498.80,303.30" fill="none" stroke="#f2a898" stroke-width="0.9"/>
</g>
<line x1="370.35" y1="219.50" x2="370.35" y2="367.50" stroke="#a8a8a8" stroke-width="0.9" stroke-dasharray="4.2,1.8"/>
<line x1="370.35" y1="367.50" x2="370.35" y2="365.50" stroke="#6e6e6e" stroke-width="0.8"/>
<line x1="370.35" y1="219.50" x2="370.35" y2="221.50" stroke="#6e6e6e" stroke-width="0.8"/>
<line x1="402.40" y1="367.50" x2="402.40" y2="365.50" stroke="#6e6e6e" stroke-width="0.8"/>
<line x1="402.40" y1="219.50" x2="402.40" y2="221.50" stroke="#6e6e6e" stroke-width="0.8"/>
<line x1="434.45" y1="367.50" x2="434.45" y2="365.50" stroke="#6e6e6e" stroke-width="0.8"/>
<line x1="434.45" y1="219.50" x2="434.45" y2="221.50" stroke="#6e6e6e" stroke-width="0.8"/>
<line x1="466.50" y1="367.50" x2="466.50" y2="365.50" stroke="#6e6e6e" stroke-width="0.8"/>
<line x1="466.50" y1="219.50" x2="466.50" y2="221.50" stroke="#6e6e6e" stroke-width="0.8"/>
<line x1="339.60" y1="351.55" x2="341.60" y2="351.55" stroke="#6e6e6e" stroke-width="0.8"/>
<line x1="498.80" y1="351.55" x2="496.80" y2="351.55" stroke="#6e6e6e" stroke-width="0.8"/>
<line x1="339.60" y1="335.60" x2="341.60" y2="335.60" stroke="#6e6e6e" stroke-width="0.8"/>
<line x1="498.80" y1="335.60" x2="496.80" y2="335.60" stroke="#6e6e6e" stroke-width="0.8"/>
<line x1="339.60" y1="319.65" x2="341.60" y2="319.65" stroke="#6e6e6e" stroke-width="0.8"/>
<line x1="498.80" y1="319.65" x2="496.80" y2="319.65" stroke="#6e6e6e" stroke-width="0.8"/>
<line x1="339.60" y1="303.70" x2="341.60" y2="303.70" stroke="#6e6e6e" stroke-width="0.8"/>
<line x1="498.80" y1="303.70" x2="496.80" y2="303.70" stroke="#6e6e6e" stroke-width="0.8"/>
<line x1="339.60" y1="287.75" x2="341.60" y2="287.75" stroke="#6e6e6e" stroke-width="0.8"/>
<line x1="498.80" y1="287.75" x2="496.80" y2="287.75" stroke="#6e6e6e" stroke-width="0.8"/>
<line x1="339.60" y1="271.80" x2="341.60" y2="271.80" stroke="#6e6e6e" stroke-width="0.8"/>
<line x1="498.80" y1="271.80" x2="496.80" y2="271.80" stroke="#6e6e6e" stroke-width="0.8"/>
<line x1="339.60" y1="255.85" x2="341.60" y2="255.85" stroke="#6e6e6e" stroke-width="0.8"/>
<line x1="498.80" y1="255.85" x2="496.80" y2="255.85" stroke="#6e6e6e" stroke-width="0.8"/>
<line x1="339.60" y1="239.90" x2="341.60" y2="239.90" stroke="#6e6e6e" stroke-width="0.8"/>
<line x1="498.80" y1="239.90" x2="496.80" y2="239.90" stroke="#6e6e6e" stroke-width="0.8"/>
<line x1="339.60" y1="223.95" x2="341.60" y2="223.95" stroke="#6e6e6e" stroke-width="0.8"/>
<line x1="498.80" y1="223.95" x2="496.80" y2="223.95" stroke="#6e6e6e" stroke-width="0.8"/>
<rect x="339.6" y="219.5" width="159.2" height="148.0" fill="none" stroke="#a6a6a6" stroke-width="1.1"/>
<text x="337.00" y="370.40" font-size="7.0" fill="#3a3a3a" text-anchor="end" font-weight="normal" font-family='"Liberation Sans", sans-serif'>-100</text>
<text x="337.00" y="354.45" font-size="7.0" fill="#3a3a3a" text-anchor="end" font-weight="normal" font-family='"Liberation Sans", sans-serif'>-80</text>
<text x="337.00" y="338.50" font-size="7.0" fill="#3a3a3a" text-anchor="end" font-weight="normal" font-family='"Liberation Sans", sans-serif'>-60</text>
<text x="337.00" y="322.55" font-size="7.0" fill="#3a3a3a" text-anchor="end" font-weight="normal" font-family='"Liberation Sans", sans-serif'>-40</text>
<text x="337.00" y="306.60" font-size="7.0" fill="#3a3a3a" text-anchor="end" font-weight="normal" font-family='"Liberation Sans", sans-serif'>-20</text>
<text x="337.00" y="290.65" font-size="7.0" fill="#3a3a3a" text-anchor="end" font-weight="normal" font-family='"Liberation Sans", sans-serif'>0</text>
<text x="337.00" y="274.70" font-size="7.0" fill="#3a3a3a" text-anchor="end" font-weight="normal" font-family='"Liberation Sans", sans-serif'>20</text>
<text x="337.00" y="258.75" font-size="7.0" fill="#3a3a3a" text-anchor="end" font-weight="normal" font-family='"Liberation Sans", sans-serif'>40</text>
<text x="337.00" y="242.80" font-size="7.0" fill="#3a3a3a" text-anchor="end" font-weight="normal" font-family='"Liberation Sans", sans-serif'>60</text>
<text x="337.00" y="226.85" font-size="7.0" fill="#3a3a3a" text-anchor="end" font-weight="normal" font-family='"Liberation Sans", sans-serif'>80</text>
<text x="370.35" y="377.00" font-size="6.8" fill="#3a3a3a" text-anchor="middle" font-weight="normal" font-family='"Liberation Sans", sans-serif'>20</text>
<text x="402.40" y="377.00" font-size="6.8" fill="#3a3a3a" text-anchor="middle" font-weight="normal" font-family='"Liberation Sans", sans-serif'>40</text>
<text x="434.45" y="377.00" font-size="6.8" fill="#3a3a3a" text-anchor="middle" font-weight="normal" font-family='"Liberation Sans", sans-serif'>60</text>
<text x="466.50" y="377.00" font-size="6.8" fill="#3a3a3a" text-anchor="middle" font-weight="normal" font-family='"Liberation Sans", sans-serif'>80</text>
<text x="498.55" y="377.00" font-size="6.8" fill="#3a3a3a" text-anchor="middle" font-weight="normal" font-family='"Liberation Sans", sans-serif'>100</text>
<text x="388.7" y="387.2" font-size="7.8" fill="#3a3a3a" font-family='"Liberation Sans", sans-serif' textLength="61.5" lengthAdjust="spacingAndGlyphs">Length (L<tspan font-size="5.4" dy="2.6">HIJ</tspan><tspan dy="-2.6">) [km]</tspan></text>
<text transform="translate(318.6,290.5) rotate(-90)" x="0" y="0" font-size="8.4" fill="#3a3a3a" text-anchor="middle" font-family='"Liberation Sans", sans-serif' textLength="65" lengthAdjust="spacingAndGlyphs">Phase difference [ ° ]</text>
<text x="419.40" y="207.40" font-size="7.9" fill="#222" text-anchor="middle" font-weight="bold" font-family='"Liberation Sans", sans-serif' textLength="130.8" lengthAdjust="spacingAndGlyphs">Impact of Hollandsche IJssel length</text>
<text x="420.35" y="216.70" font-size="7.9" fill="#222" text-anchor="middle" font-weight="bold" font-family='"Liberation Sans", sans-serif' textLength="89.9" lengthAdjust="spacingAndGlyphs">on M2 phase differences</text>
<text x="341.60" y="214.90" font-size="9.0" fill="#111" text-anchor="start" font-weight="bold" font-family='"Liberation Sans", sans-serif'>c</text>
<rect x="405.2" y="308.0" width="88.1" height="53.6" fill="none" stroke="#6a6a6a" stroke-width="0.8"/>
<line x1="407.20" y1="314.30" x2="427.30" y2="314.30" stroke="#f2a898" stroke-width="0.9"/>
<line x1="407.20" y1="324.50" x2="427.30" y2="324.50" stroke="#f6cd88" stroke-width="0.9"/>
<line x1="407.20" y1="334.40" x2="427.30" y2="334.40" stroke="#7fb2e5" stroke-width="0.9"/>
<line x1="407.20" y1="344.30" x2="427.30" y2="344.30" stroke="#b48fcf" stroke-width="0.9"/>
<line x1="407.20" y1="355.00" x2="427.30" y2="355.00" stroke="#7a7a7a" stroke-width="0.8" stroke-dasharray="3,2"/>
<text x="429.40" y="316.00" font-size="8.0" fill="#4a4a4a" font-family='"Liberation Serif", serif' font-style="italic" textLength="4.60" lengthAdjust="spacingAndGlyphs">θ</text>
<text x="433.90" y="317.60" font-size="5.2" fill="#4a4a4a" font-family='"Liberation Serif", serif' font-style="italic" textLength="9.90" lengthAdjust="spacingAndGlyphs">m,a</text>
<text x="447.20" y="316.00" font-size="8.0" fill="#4a4a4a" font-family='"Liberation Serif", serif' textLength="5.40" lengthAdjust="spacingAndGlyphs">=</text>
<text x="455.70" y="316.00" font-size="8.0" fill="#4a4a4a" font-family='"Liberation Serif", serif' font-style="italic" textLength="4.20" lengthAdjust="spacingAndGlyphs">ϕ</text>
<text x="459.50" y="317.60" font-size="5.2" fill="#4a4a4a" font-family='"Liberation Serif", serif' font-style="italic" textLength="4.50" lengthAdjust="spacingAndGlyphs">η</text>
<text x="468.00" y="316.00" font-size="8.0" fill="#4a4a4a" font-family='"Liberation Serif", serif' textLength="5.50" lengthAdjust="spacingAndGlyphs">−</text>
<text x="476.80" y="316.00" font-size="8.0" fill="#4a4a4a" font-family='"Liberation Serif", serif' font-style="italic" textLength="4.20" lengthAdjust="spacingAndGlyphs">ϕ</text>
<text x="480.60" y="317.60" font-size="5.2" fill="#4a4a4a" font-family='"Liberation Serif", serif' font-style="italic" textLength="4.00" lengthAdjust="spacingAndGlyphs">Q</text>
<text x="484.60" y="318.40" font-size="4.0" fill="#4a4a4a" font-family='"Liberation Serif", serif' font-style="italic" textLength="5.90" lengthAdjust="spacingAndGlyphs">1a</text>
<text x="429.40" y="326.10" font-size="8.0" fill="#4a4a4a" font-family='"Liberation Serif", serif' font-style="italic" textLength="4.60" lengthAdjust="spacingAndGlyphs">θ</text>
<text x="433.90" y="327.70" font-size="5.2" fill="#4a4a4a" font-family='"Liberation Serif", serif' font-style="italic" textLength="10.60" lengthAdjust="spacingAndGlyphs">m,b</text>
<text x="447.20" y="326.10" font-size="8.0" fill="#4a4a4a" font-family='"Liberation Serif", serif' textLength="5.40" lengthAdjust="spacingAndGlyphs">=</text>
<text x="455.70" y="326.10" font-size="8.0" fill="#4a4a4a" font-family='"Liberation Serif", serif' font-style="italic" textLength="4.20" lengthAdjust="spacingAndGlyphs">ϕ</text>
<text x="459.50" y="327.70" font-size="5.2" fill="#4a4a4a" font-family='"Liberation Serif", serif' font-style="italic" textLength="5.20" lengthAdjust="spacingAndGlyphs">η1</text>
<text x="468.00" y="326.10" font-size="8.0" fill="#4a4a4a" font-family='"Liberation Serif", serif' textLength="5.50" lengthAdjust="spacingAndGlyphs">−</text>
<text x="476.80" y="326.10" font-size="8.0" fill="#4a4a4a" font-family='"Liberation Serif", serif' font-style="italic" textLength="4.20" lengthAdjust="spacingAndGlyphs">ϕ</text>
<text x="480.60" y="327.70" font-size="5.2" fill="#4a4a4a" font-family='"Liberation Serif", serif' font-style="italic" textLength="4.00" lengthAdjust="spacingAndGlyphs">Q</text>
<text x="484.60" y="328.50" font-size="4.0" fill="#4a4a4a" font-family='"Liberation Serif", serif' font-style="italic" textLength="5.70" lengthAdjust="spacingAndGlyphs">1b</text>
<text x="429.40" y="336.30" font-size="8.0" fill="#4a4a4a" font-family='"Liberation Serif", serif' font-style="italic" textLength="4.60" lengthAdjust="spacingAndGlyphs">θ</text>
<text x="433.90" y="337.90" font-size="5.2" fill="#4a4a4a" font-family='"Liberation Serif", serif' font-style="italic" textLength="2.50" lengthAdjust="spacingAndGlyphs">s</text>
<text x="439.10" y="336.30" font-size="8.0" fill="#4a4a4a" font-family='"Liberation Serif", serif' textLength="5.40" lengthAdjust="spacingAndGlyphs">=</text>
<text x="448.60" y="336.30" font-size="8.0" fill="#4a4a4a" font-family='"Liberation Serif", serif' font-style="italic" textLength="4.20" lengthAdjust="spacingAndGlyphs">ϕ</text>
<text x="452.40" y="337.90" font-size="5.2" fill="#4a4a4a" font-family='"Liberation Serif", serif' font-style="italic" textLength="5.60" lengthAdjust="spacingAndGlyphs">η1</text>
<text x="461.30" y="336.30" font-size="8.0" fill="#4a4a4a" font-family='"Liberation Serif", serif' textLength="5.40" lengthAdjust="spacingAndGlyphs">−</text>
<text x="469.40" y="336.30" font-size="8.0" fill="#4a4a4a" font-family='"Liberation Serif", serif' font-style="italic" textLength="4.20" lengthAdjust="spacingAndGlyphs">ϕ</text>
<text x="473.20" y="337.90" font-size="5.2" fill="#4a4a4a" font-family='"Liberation Serif", serif' font-style="italic" textLength="4.00" lengthAdjust="spacingAndGlyphs">Q</text>
<text x="477.20" y="338.70" font-size="4.0" fill="#4a4a4a" font-family='"Liberation Serif", serif' font-style="italic" textLength="5.70" lengthAdjust="spacingAndGlyphs">1c</text>
<text x="429.40" y="346.40" font-size="8.0" fill="#4a4a4a" font-family='"Liberation Serif", serif' font-style="italic" textLength="4.60" lengthAdjust="spacingAndGlyphs">θ</text>
<text x="435.60" y="346.40" font-size="8.0" fill="#4a4a4a" font-family='"Liberation Serif", serif' textLength="5.60" lengthAdjust="spacingAndGlyphs">=</text>
<text x="445.90" y="346.40" font-size="8.0" fill="#4a4a4a" font-family='"Liberation Serif", serif' font-style="italic" textLength="4.20" lengthAdjust="spacingAndGlyphs">ϕ</text>
<text x="449.70" y="348.00" font-size="5.2" fill="#4a4a4a" font-family='"Liberation Serif", serif' font-style="italic" textLength="4.00" lengthAdjust="spacingAndGlyphs">Q</text>
<text x="453.70" y="348.80" font-size="4.0" fill="#4a4a4a" font-family='"Liberation Serif", serif' font-style="italic" textLength="5.60" lengthAdjust="spacingAndGlyphs">1c</text>
<text x="462.00" y="346.40" font-size="8.0" fill="#4a4a4a" font-family='"Liberation Serif", serif' textLength="5.40" lengthAdjust="spacingAndGlyphs">−</text>
<text x="470.10" y="346.40" font-size="8.0" fill="#4a4a4a" font-family='"Liberation Serif", serif' font-style="italic" textLength="4.20" lengthAdjust="spacingAndGlyphs">ϕ</text>
<text x="473.90" y="348.00" font-size="5.2" fill="#4a4a4a" font-family='"Liberation Serif", serif' font-style="italic" textLength="4.00" lengthAdjust="spacingAndGlyphs">Q</text>
<text x="477.90" y="348.80" font-size="4.0" fill="#4a4a4a" font-family='"Liberation Serif", serif' font-style="italic" textLength="6.30" lengthAdjust="spacingAndGlyphs">1a</text>
<text x="430.00" y="356.90" font-size="8.0" fill="#4a4a4a" font-family='"Liberation Serif", serif' font-style="italic" textLength="5.00" lengthAdjust="spacingAndGlyphs">L</text>
<text x="435.00" y="358.50" font-size="5.2" fill="#4a4a4a" font-family='"Liberation Serif", serif' font-style="italic" textLength="16.90" lengthAdjust="spacingAndGlyphs">HIJ,0</text>
<text x="455.30" y="356.90" font-size="8.0" fill="#4a4a4a" font-family='"Liberation Serif", serif' textLength="5.40" lengthAdjust="spacingAndGlyphs">=</text>
<text x="463.80" y="356.90" font-size="7.6" fill="#4a4a4a" font-family='"Liberation Serif", serif' textLength="7.80" lengthAdjust="spacingAndGlyphs">20</text>
<text x="474.60" y="356.90" font-size="7.6" fill="#4a4a4a" font-family='"Liberation Serif", serif' textLength="11.80" lengthAdjust="spacingAndGlyphs">km</text>
</svg></body></html>
